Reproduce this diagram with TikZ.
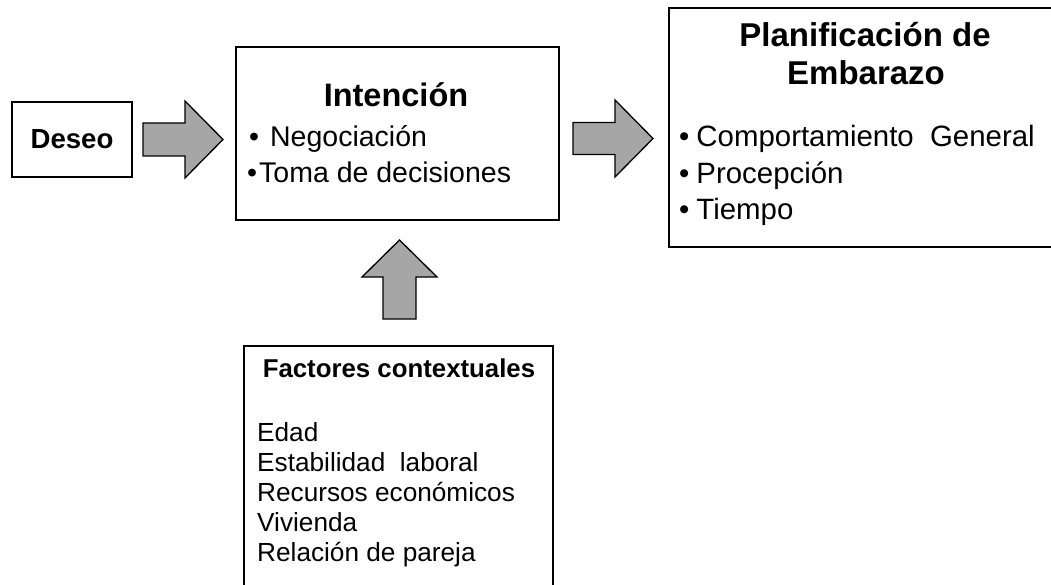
\documentclass[tikz,border=0pt]{standalone}
\usepackage{fontspec}
\setmainfont{Liberation Sans}
\definecolor{arrowgray}{RGB}{166,166,166}
\begin{document}
\begin{tikzpicture}[x=1pt,y=-1pt,
  box/.style={draw=black,line width=1.6pt,inner sep=0pt,fill=white},
  blockarrow/.style={draw=black,fill=arrowgray,line width=1.3pt,line join=miter},
  txt/.style={inner sep=0pt,anchor=base west},
  ttl/.style={inner sep=0pt,anchor=base}]
\clip (0,0) rectangle (1051,585);
\fill[white] (0,0) rectangle (1051,585);

% boxes
\node[box,minimum width=120,minimum height=75] (deseo) at (72,139.5) {};
\node[box,minimum width=323,minimum height=173] (intencion) at (397.5,133.5) {};
\node[box,minimum width=392,minimum height=239] (plan) at (865,127.5) {};
\node[box,minimum width=309,minimum height=274] (factores) at (398.5,483) {};

% block arrows
\draw[blockarrow] (143,123) -- (185,123) -- (185,101) -- (223,139.5) -- (185,178) -- (185,156) -- (143,156) -- cycle;
\draw[blockarrow] (573,122.5) -- (615,122.5) -- (615,100) -- (653,138.5) -- (615,177) -- (615,154.5) -- (573,154.5) -- cycle;
\draw[blockarrow] (383,319) -- (383,277) -- (362,277) -- (399.5,240) -- (437,277) -- (416,277) -- (416,319) -- cycle;

% Deseo
\node[ttl] (tdeseo) at (72,149) {\fontsize{27.6}{33}\selectfont\bfseries Deseo};

% Intencion
\node[ttl] (tint) at (396,107) {\fontsize{32.5}{38}\selectfont\bfseries Intención};
\node[txt] (i1) at (249,147) {\fontsize{28.5}{34}\selectfont •\hspace{11pt}Negociación};
\node[txt] (i2) at (247,183) {\fontsize{28.5}{34}\selectfont •\hspace{2pt}Toma de decisiones};

% Planificacion
\node[ttl] (tplan1) at (865,47) {\fontsize{33}{38}\selectfont\bfseries Planificación de};
\node[ttl] (tplan2) at (866,85) {\fontsize{33}{38}\selectfont\bfseries Embarazo};
\node[txt] (p1) at (679,147) {\fontsize{29.4}{36}\selectfont •\hspace{7pt}Comportamiento\ \ General};
\node[txt] (p2) at (679,183.5) {\fontsize{29.4}{36}\selectfont •\hspace{7pt}Procepción};
\node[txt] (p3) at (679,220) {\fontsize{29.4}{36}\selectfont •\hspace{7pt}Tiempo};

% Factores
\node[ttl] (tfac) at (399,377) {\fontsize{25.8}{31}\selectfont\bfseries Factores contextuales};
\node[txt] (f1) at (257,441) {\fontsize{26.2}{31}\selectfont Edad};
\node[txt] (f2) at (257,471) {\fontsize{26.2}{31}\selectfont Estabilidad\ \ laboral};
\node[txt] (f3) at (257,501) {\fontsize{26.2}{31}\selectfont Recursos económicos};
\node[txt] (f4) at (257,531) {\fontsize{26.2}{31}\selectfont Vivienda};
\node[txt] (f5) at (257,561) {\fontsize{26.2}{31}\selectfont Relación de pareja};
\end{tikzpicture}
\end{document}
